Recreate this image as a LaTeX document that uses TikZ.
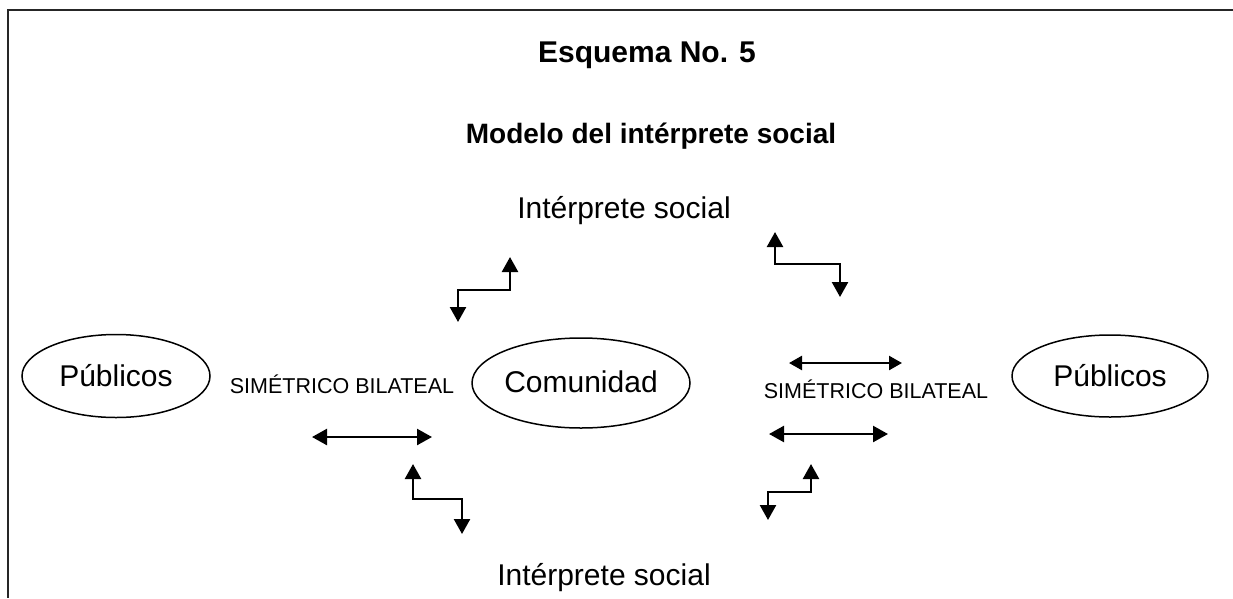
\documentclass[tikz,border=0pt]{standalone}
\usepackage{fontspec}
\setmainfont{Liberation Sans}
\usetikzlibrary{arrows.meta,shapes.geometric}
\begin{document}
\begin{tikzpicture}[x=1pt,y=-1pt,
  frame/.style={line width=2pt,black!85},
  oval/.style={draw,ellipse,line width=1.5pt,inner sep=0pt,font=\fontsize{30}{34}\selectfont},
  big/.style={font=\fontsize{30}{34}\selectfont,anchor=base,inner sep=0pt},
  ttl/.style={font=\bfseries\fontsize{30}{34}\selectfont,anchor=base,inner sep=0pt},
  small/.style={font=\fontsize{21.5}{24}\selectfont,anchor=base,inner sep=0pt},
  arr/.style={line width=2.4pt,{Triangle[length=15pt,width=16pt]}-{Triangle[length=15pt,width=16pt]}},
  arrs/.style={line width=2.4pt,{Triangle[length=13pt,width=14pt]}-{Triangle[length=13pt,width=14pt]}}
]
\useasboundingbox (0,0) rectangle (1233,598);
\fill[white] (0,0) rectangle (1233,598);
\draw[frame] (1233,10) -- (8,10) -- (8,598);

% titles
\node[ttl] (t1) at (647,62) {Esquema No. 5};
\node[ttl,font=\bfseries\fontsize{28}{32}\selectfont] (t2) at (651,143) {Modelo del intérprete social};
\node[big] (it) at (624,218) {Intérprete social};
\node[big] (ib) at (604,585) {Intérprete social};

% ellipses
\node[oval,minimum width=188pt,minimum height=83pt,text depth=2pt] (pl) at (116,376) {Públicos};
\node[oval,minimum width=218pt,minimum height=90pt,text depth=3pt] (co) at (581,383) {Comunidad};
\node[oval,minimum width=196pt,minimum height=82pt] (pr) at (1110,376) {Públicos};

% labels
\node[small] (sl) at (342,393) {SIMÉTRICO BILATEAL};
\node[small] (sr) at (876,398) {SIMÉTRICO BILATEAL};

% arrow end points
\coordinate (a1s) at (458,322); \coordinate (a1e) at (510,257);
\coordinate (a2s) at (775,232); \coordinate (a2e) at (840,297);
\coordinate (a3s) at (312,437); \coordinate (a3e) at (432,437);
\coordinate (a4s) at (413,464); \coordinate (a4e) at (462,534);
\coordinate (a5s) at (769,434); \coordinate (a5e) at (888,434);
\coordinate (a6s) at (768,520); \coordinate (a6e) at (811,464);
\coordinate (a7s) at (789,363); \coordinate (a7e) at (902,363);

\draw[arr] (a1s) -- (458,290) -- (510,290) -- (a1e);
\draw[arr] (a2s) -- (775,264) -- (840,264) -- (a2e);
\draw[arr] (a3s) -- (a3e);
\draw[arr] (a4s) -- (413,499) -- (462,499) -- (a4e);
\draw[arr] (a5s) -- (a5e);
\draw[arr] (a6s) -- (768,492) -- (811,492) -- (a6e);
\draw[arrs] (a7s) -- (a7e);
\end{tikzpicture}
\end{document}
